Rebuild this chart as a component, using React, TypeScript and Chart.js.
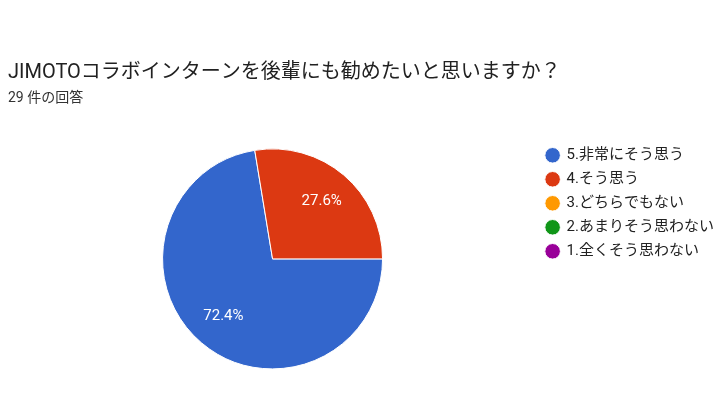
import { Chart, registerables } from "chart.js";
import type { Plugin } from "chart.js";
import { useEffect, useRef } from "react";

Chart.register(...registerables);

const titleText = "JIMOTOコラボインターンを後輩にも勧めたいと思いますか？";
const subtitleText = "29 件の回答";
const answers = [
  "5.非常にそう思う",
  "4.そう思う",
  "3.どちらでもない",
  "2.あまりそう思わない",
  "1.全くそう思わない",
];
const counts = [21, 8, 0, 0, 0];
const colors = ["#3366cc", "#dc3912", "#ff9900", "#109618", "#990099"];

const fontFamily = "Roboto, 'Noto Sans CJK JP', 'Noto Sans', sans-serif";

// percentage labels inside the slices
const percentLabels: Plugin<"pie"> = {
  id: "percentLabels",
  afterDatasetsDraw(chart) {
    const ctx = chart.ctx;
    const meta = chart.getDatasetMeta(0);
    const values = chart.data.datasets[0].data as number[];
    const total = values.reduce((a, b) => a + b, 0);
    ctx.save();
    ctx.fillStyle = "#ffffff";
    ctx.font = `15px ${fontFamily}`;
    ctx.textAlign = "center";
    ctx.textBaseline = "middle";
    meta.data.forEach((el: any, i) => {
      const v = values[i];
      if (!v) return;
      const { x, y, startAngle, endAngle, outerRadius } = el.getProps(
        ["x", "y", "startAngle", "endAngle", "outerRadius"],
        true
      );
      const mid = (startAngle + endAngle) / 2;
      const r = outerRadius * 0.69;
      ctx.fillText(
        ((v / total) * 100).toFixed(1) + "%",
        x + Math.cos(mid) * r,
        y + Math.sin(mid) * r
      );
    });
    ctx.restore();
  },
};

export default function App() {
  const chartRef = useRef<HTMLCanvasElement>(null);
  const chartInstance = useRef<Chart | null>(null);

  useEffect(() => {
    if (!chartRef.current) return;
    if (chartInstance.current) chartInstance.current.destroy();

    chartInstance.current = new Chart(chartRef.current, {
      type: "pie",
      data: {
        labels: answers,
        datasets: [
          {
            data: counts,
            backgroundColor: colors,
            borderColor: "#ffffff",
            borderWidth: 1,
            radius: 110,
          },
        ],
      },
      options: {
        animation: false,
        responsive: true,
        maintainAspectRatio: false,
        rotation: 90,
        layout: {
          padding: { left: 8, right: -5, bottom: 26, top: 0 },
        },
        plugins: {
          title: {
            display: true,
            text: titleText,
            align: "start",
            color: "#212121",
            font: { family: fontFamily, size: 20, weight: "normal" },
            padding: { top: 61, bottom: 5 },
          },
          subtitle: {
            display: true,
            text: subtitleText,
            align: "start",
            color: "#333333",
            font: { family: fontFamily, size: 14, weight: "normal" },
            padding: { top: 0, bottom: 32 },
          },
          legend: {
            position: "right",
            align: "start",
            fullSize: false,
            labels: {
              usePointStyle: true,
              pointStyle: "circle",
              boxWidth: 13,
              boxHeight: 11,
              padding: 9,
              color: "#222222",
              font: { family: fontFamily, size: 15 },
            },
          },
          tooltip: { enabled: false },
        },
      },
      plugins: [percentLabels],
    });

    return () => {
      if (chartInstance.current) {
        chartInstance.current.destroy();
        chartInstance.current = null;
      }
    };
  }, []);

  return (
    <div
      style={{
        position: "fixed",
        left: 0,
        top: 0,
        width: 719,
        height: 405,
        background: "#ffffff",
      }}
    >
      <canvas ref={chartRef}></canvas>
    </div>
  );
}
